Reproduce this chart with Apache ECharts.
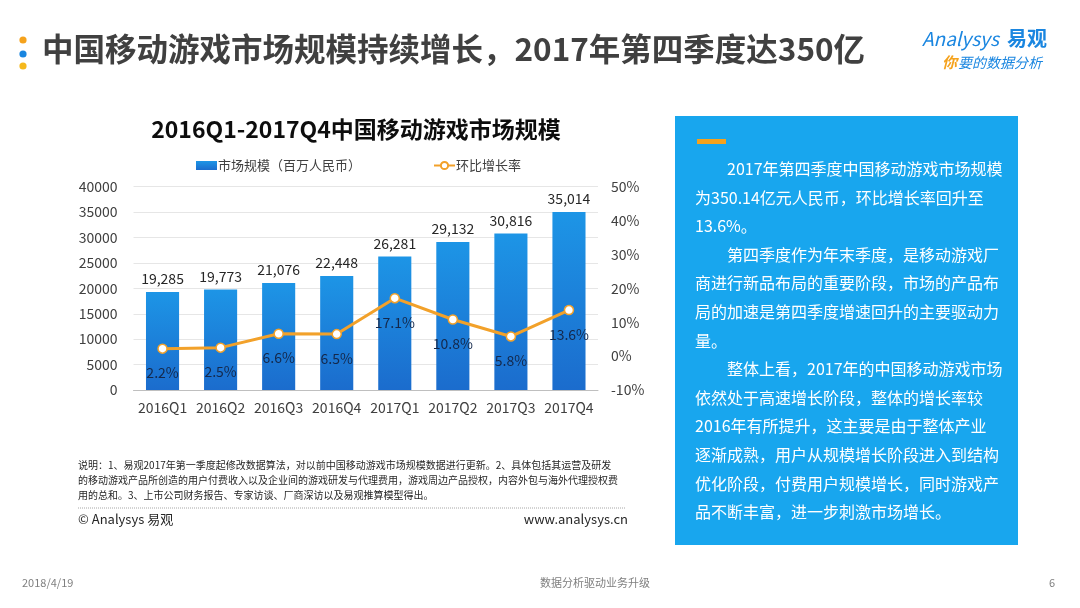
<!DOCTYPE html>
<html><head><meta charset="utf-8">
<script src="https://cdn.jsdelivr.net/npm/echarts@6/dist/echarts.min.js"></script>
<style>html,body{margin:0;padding:0;background:#fff}#c{width:1080px;height:608px}</style>
</head><body><div id="c"></div>
<script>
const categories = ['2016Q1','2016Q2','2016Q3','2016Q4','2017Q1','2017Q2','2017Q3','2017Q4'];
const marketSize = [19285, 19773, 21076, 22448, 26281, 29132, 30816, 35014];
const growthRate = [2.2, 2.5, 6.6, 6.5, 17.1, 10.8, 5.8, 13.6];
const leftTicks = {min: 0, max: 40000, interval: 5000};
const rightTicks = {min: -10, max: 50, interval: 10};
const panelLines = [
  '　　2017年第四季度中国移动游戏市场规模',
  '为350.14亿元人民币，环比增长率回升至',
  '13.6%。',
  '　　第四季度作为年末季度，是移动游戏厂',
  '商进行新品布局的重要阶段，市场的产品布',
  '局的加速是第四季度增速回升的主要驱动力',
  '量。',
  '　　整体上看，2017年的中国移动游戏市场',
  '依然处于高速增长阶段，整体的增长率较',
  '2016年有所提升，这主要是由于整体产业',
  '逐渐成熟，用户从规模增长阶段进入到结构',
  '优化阶段，付费用户规模增长，同时游戏产',
  '品不断丰富，进一步刺激市场增长。'
];
const noteLines = [
  '说明：1、易观2017年第一季度起修改数据算法，对以前中国移动游戏市场规模数据进行更新。2、具体包括其运营及研发',
  '的移动游戏产品所创造的用户付费收入以及企业间的游戏研发与代理费用，游戏周边产品授权，内容外包与海外代理授权费',
  '用的总和。3、上市公司财务报告、专家访谈、厂商深访以及易观推算模型得出。'
];

const F = '"Noto Sans CJK SC", "Noto Sans", sans-serif';
const chart = echarts.init(document.getElementById('c'), null, {renderer: 'canvas'});

const graphics = [];
// title bullets
graphics.push({type:'circle', shape:{cx:23, cy:40, r:3.6}, style:{fill:'#f5a21c'}});
graphics.push({type:'circle', shape:{cx:23, cy:54, r:3.6}, style:{fill:'#1a86e0'}});
graphics.push({type:'circle', shape:{cx:23, cy:66, r:3.6}, style:{fill:'#f5b81c'}});
graphics.push({type:'text', left:42, top:33, style:{text:'中国移动游戏市场规模持续增长，2017年第四季度达350亿', font:'bold 31.5px '+F, fill:'#404040'}});
// logo
graphics.push({type:'text', left:922, top:29, style:{text:'Analysys', font:'italic 19px '+F, fill:'#1a86e0'}});
graphics.push({type:'text', left:1007, top:28, style:{text:'易观', font:'bold 20px '+F, fill:'#1a86e0'}});
graphics.push({type:'text', left:942, top:55, style:{text:'你', font:'italic bold 15px '+F, fill:'#f5a21c'}});
graphics.push({type:'text', left:958, top:56, style:{text:'要的数据分析', font:'italic 14px '+F, fill:'#1a86e0'}});
// right panel
graphics.push({type:'rect', shape:{x:675, y:116, width:343, height:429}, style:{fill:'#18a6ee'}});
graphics.push({type:'rect', shape:{x:697, y:139, width:29, height:5}, style:{fill:'#f5a21c'}});
panelLines.forEach((t, i) => {
  graphics.push({type:'text', left:695, top:161 + i*28.6, style:{text:t, font:'16px '+F, fill:'#ffffff'}});
});
// footnote
noteLines.forEach((t, i) => {
  graphics.push({type:'text', left:78, top:460 + i*15.2, style:{text:t, font:'10px '+F, fill:'#262626'}});
});
graphics.push({type:'line', shape:{x1:78, y1:508, x2:626, y2:508}, style:{stroke:'#a6a6a6', lineWidth:1, lineDash:[1,1]}});
graphics.push({type:'text', left:78, top:513, style:{text:'© Analysys 易观', font:'13px '+F, fill:'#262626'}});
graphics.push({type:'text', right:1080-628, top:513, style:{text:'www.analysys.cn', font:'13px '+F, fill:'#262626', align:'right'}});
// page footer
graphics.push({type:'text', left:22, top:577, style:{text:'2018/4/19', font:'11px '+F, fill:'#7f7f7f'}});
graphics.push({type:'text', left:540, top:577, style:{text:'数据分析驱动业务升级', font:'11px '+F, fill:'#7f7f7f', align:'center'}});
graphics.push({type:'text', left:1049, top:577, style:{text:'6', font:'11px '+F, fill:'#7f7f7f'}});

chart.setOption({
  animation: false,
  textStyle: {fontFamily: F},
  title: {
    text: '2016Q1-2017Q4中国移动游戏市场规模',
    left: 351, top: 113, textAlign: 'center',
    textStyle: {fontSize: 23, fontWeight: 'bold', color: '#0d0d0d', fontFamily: F}
  },
  legend: {
    left: 191, top: 154, itemGap: 72,
    itemWidth: 21, itemHeight: 9,
    textStyle: {fontSize: 13, color: '#404040', fontFamily: F, padding: [0, 0, 0, -4]},
    data: [
      {name: '市场规模（百万人民币）', icon: 'rect'},
      {name: '环比增长率'}
    ]
  },
  grid: {left: 133.5, right: 482, top: 186.7, bottom: 218, containLabel: false},
  xAxis: {
    type: 'category', data: categories,
    axisLine: {lineStyle: {color: '#bfbfbf'}},
    axisTick: {show: false},
    axisLabel: {fontSize: 14, color: '#404040', margin: 11, interval: 0, fontFamily: F}
  },
  yAxis: [
    {type: 'value', min: leftTicks.min, max: leftTicks.max, interval: leftTicks.interval,
     axisLabel: {fontSize: 14, color: '#404040', margin: 16, fontFamily: F, formatter: v => String(v)},
     splitLine: {lineStyle: {color: '#e6e6e6'}}, axisLine: {show: false}, axisTick: {show: false}},
    {type: 'value', min: rightTicks.min, max: rightTicks.max, interval: rightTicks.interval,
     axisLabel: {fontSize: 14, color: '#404040', margin: 13, formatter: '{value}%', fontFamily: F},
     splitLine: {show: false}, axisLine: {show: false}, axisTick: {show: false}}
  ],
  series: [
    {
      name: '市场规模（百万人民币）', type: 'bar', data: marketSize, barWidth: '57%',
      itemStyle: {color: new echarts.graphic.LinearGradient(0, 0, 0, 1, [
        {offset: 0, color: '#1d95e6'}, {offset: 1, color: '#1b6ccd'}])},
      label: {show: true, position: 'top', distance: 6, fontSize: 14, color: '#262626', fontFamily: F,
        formatter: p => p.value.toLocaleString('en-US')}
    },
    {
      name: '环比增长率', type: 'line', yAxisIndex: 1, data: growthRate,
      symbol: 'circle', symbolSize: 9,
      lineStyle: {color: '#f2a12a', width: 3},
      itemStyle: {color: '#ffffff', borderColor: '#f2a12a', borderWidth: 1.5},
      label: {show: true, position: 'bottom', distance: 12, fontSize: 14, color: '#14284b', fontFamily: F,
        formatter: p => p.value.toFixed(1) + '%'}
    }
  ],
  graphic: graphics
});
</script>
</body></html>
